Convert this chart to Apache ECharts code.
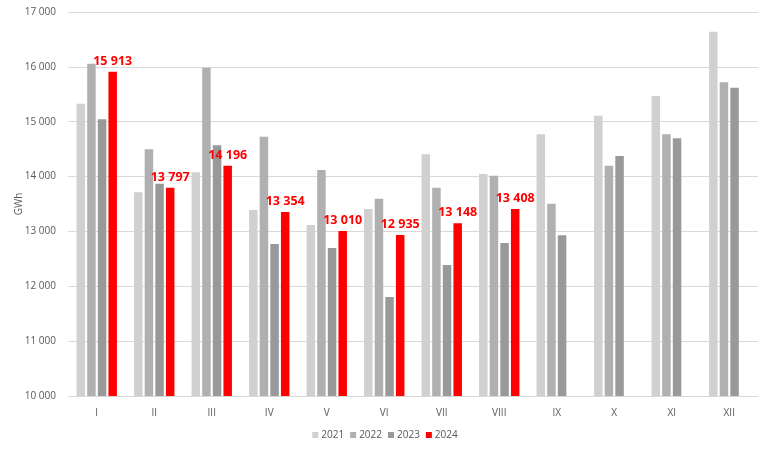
<!DOCTYPE html>
<html>
<head>
<meta charset="utf-8">
<script src="https://cdn.jsdelivr.net/npm/echarts@6/dist/echarts.min.js"></script>
<style>html,body{margin:0;padding:0;background:#fff}#c{width:770px;height:449px}</style>
</head>
<body>
<div id="c"></div>
<script>
const categories = ['I','II','III','IV','V','VI','VII','VIII','IX','X','XI','XII'];
const seriesNames = ['2021','2022','2023','2024'];
const v2021 = [15328, 13713, 14078, 13390, 13117, 13409, 14406, 14047, 14770, 15110, 15468, 16641];
const v2022 = [16057, 14497, 15983, 14727, 14120, 13597, 13797, 14016, 13505, 14198, 14770, 15718];
const v2023 = [15044, 13870, 14570, 12771, 12698, 11805, 12388, 12789, 12929, 14375, 14697, 15620];
const v2024 = [15913, 13797, 14196, 13354, 13010, 12935, 13148, 13408, null, null, null, null];
const colors = ['#d0d0d0', '#b0b0b0', '#999999', '#ff0000'];

const fmt = v => String(v).replace(/\B(?=(\d{3})+(?!\d))/g, ' ');
const font = 'Open Sans, Liberation Sans, sans-serif';
const data = [v2021, v2022, v2023, v2024];

const chart = echarts.init(document.getElementById('c'));
chart.setOption({
  animation: false,
  textStyle: { fontFamily: font },
  grid: { left: 68, right: 12, top: 12, bottom: 53, containLabel: false, outerBoundsMode: 'none' },
  legend: {
    top: 425, left: 'center',
    itemWidth: 6, itemHeight: 6, itemGap: 6,
    icon: 'rect',
    textStyle: { color: '#595959', fontSize: 10, fontFamily: font, padding: [0, 0, 0, -2] },
    data: seriesNames
  },
  xAxis: {
    type: 'category', data: categories,
    axisLine: { lineStyle: { color: '#d9d9d9' } },
    axisTick: { show: false },
    axisLabel: { color: '#595959', fontSize: 10, margin: 12 }
  },
  yAxis: {
    type: 'value', min: 10000, max: 17000, interval: 1000,
    name: 'GWh', nameLocation: 'middle', nameGap: 44, nameRotate: 90,
    nameMoveOverlap: false,
    nameTextStyle: { color: '#595959', fontSize: 10 },
    axisLine: { show: false }, axisTick: { show: false },
    axisLabel: { color: '#595959', fontSize: 10, formatter: fmt, margin: 12 },
    splitLine: { lineStyle: { color: '#d9d9d9' } }
  },
  series: seriesNames.map((n, i) => ({
    name: n, type: 'bar', data: data[i],
    barWidth: 8.5, barGap: '25%', barCategoryGap: '30%',
    itemStyle: { color: colors[i] },
    label: i === 3 ? {
      show: true, position: 'top', distance: 4,
      color: '#ff0000', fontWeight: 'bold', fontSize: 12.5, fontFamily: font,
      formatter: p => fmt(p.value)
    } : { show: false }
  }))
});
</script>
</body>
</html>
